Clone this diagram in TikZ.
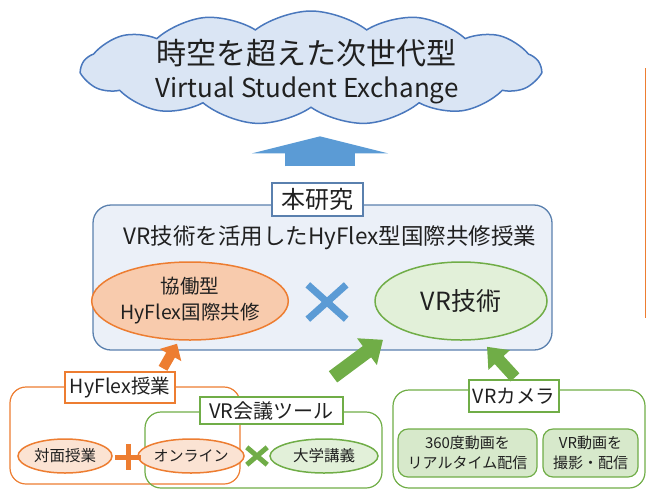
\documentclass[tikz,border=0pt]{standalone}
\usepackage{fontspec}
\setmainfont{Noto Sans CJK JP}
\usetikzlibrary{shapes.symbols,shapes.geometric,arrows.meta,calc}
\definecolor{cloudfill}{HTML}{DAE5F4}
\definecolor{cloudline}{HTML}{4A78BD}
\definecolor{boxfill}{HTML}{EBF0F8}
\definecolor{boxline}{HTML}{5A80AE}
\definecolor{bluearr}{HTML}{5B9BD5}
\definecolor{orng}{HTML}{ED7D31}
\definecolor{orfill}{HTML}{F8CBAD}
\definecolor{orfilltwo}{HTML}{FBE3D3}
\definecolor{grn}{HTML}{70AD47}
\definecolor{grfill}{HTML}{E2F0D9}
\definecolor{grfilltwo}{HTML}{D7E9CB}
\definecolor{txt}{HTML}{202020}
\tikzset{
  every node/.style={text=txt, inner sep=0pt},
  lbl/.style={draw=#1, fill=white, line width=1.3pt},
  grp/.style={draw=#1, rounded corners=16pt, line width=1.2pt},
  ell/.style={ellipse, line width=1.5pt},
}
\begin{document}
\begin{tikzpicture}[x=1pt,y=-1pt]
\useasboundingbox (0,0) rectangle (647,491);
% cloud
\node[cloud, cloud puffs=13, cloud puff arc=75, cloud ignores aspect,
      minimum width=458pt, minimum height=114pt, draw=cloudline,
      line width=1.5pt, fill=cloudfill] (cloud) at (311,68) {};
\node[font=\fontsize{30}{30}\selectfont] (cl1) at (306,53) {時空を超えた次世代型};
\node[font=\fontsize{26}{26}\selectfont] (cl2) at (307,90) {Virtual Student Exchange};
% main box
\node[draw=boxline, fill=boxfill, rounded corners=18pt, line width=1.3pt,
      minimum width=459pt, minimum height=145pt] (main) at (322.5,277.5) {};
\node[lbl=boxline, minimum width=91pt, minimum height=33pt,
      font=\fontsize{24}{24}\selectfont] (hon) at (317.5,199.5) {本研究};
\node[font=\fontsize{22.5}{22.5}\selectfont] (maintxt) at (330,238)
      {VR技術を活用したHyFlex型国際共修授業};
\node[ell, draw=orng, fill=orfill, minimum width=165pt, minimum height=78pt,
      align=center, font=\fontsize{19.5}{26}\selectfont] (orell) at (190,301)
      {協働型\\HyFlex国際共修};
\node[ell, draw=grn, fill=grfill, minimum width=172pt, minimum height=78pt,
      font=\fontsize{25}{25}\selectfont] (greell) at (461,301) {VR技術};
\node[minimum width=38pt, minimum height=34pt] (xone) at (327,302) {};
\draw[bluearr, line width=7pt] (xone.north west) -- (xone.south east)
      (xone.north east) -- (xone.south west);
% blue arrow
\draw[bluearr, line width=70pt, -{Triangle[length=17pt,width=136pt]}]
      ([xshift=2.5pt,yshift=16pt]hon.north) -- ([xshift=2.5pt,yshift=46pt]hon.north);
% HyFlex group
\node[grp=orng, minimum width=230pt, minimum height=97pt] (hyg) at (125,435.5) {};
\node[grp=grn, minimum width=237pt, minimum height=76pt] (vrg) at (263.5,450) {};
\node[lbl=orng, minimum width=110pt, minimum height=31pt,
      font=\fontsize{19.5}{19.5}\selectfont] (hylab) at (120,387.5) {HyFlex授業};
\node[lbl=grn, minimum width=143pt, minimum height=27pt,
      font=\fontsize{20}{20}\selectfont] (vrlab) at (271.5,410.5) {VR会議ツール};
\node[ell, draw=orng, fill=orfilltwo, minimum width=94pt, minimum height=34pt,
      font=\fontsize{15.5}{15.5}\selectfont] (taimen) at (65,456) {対面授業};
\node[ell, draw=orng, fill=orfilltwo, minimum width=88pt, minimum height=34pt,
      font=\fontsize{15}{15}\selectfont] (online) at (191,456) {オンライン};
\node[ell, draw=grn, fill=grfill, minimum width=108pt, minimum height=34pt,
      font=\fontsize{15.5}{15.5}\selectfont] (daigaku) at (324,456) {大学講義};
\node[minimum width=25pt, minimum height=26pt] (plus) at (128,457) {};
\draw[orng, line width=5pt] (plus.west) -- (plus.east) (plus.north) -- (plus.south);
\node[minimum width=20pt, minimum height=17pt] (xtwo) at (257,456) {};
\draw[grn, line width=5pt] (xtwo.north west) -- (xtwo.south east)
      (xtwo.north east) -- (xtwo.south west);
% VR camera group
\node[grp=grn, minimum width=252pt, minimum height=98pt] (camg) at (519,439) {};
\node[lbl=grn, minimum width=90pt, minimum height=32pt,
      font=\fontsize{19.5}{19.5}\selectfont] (camlab) at (514,396) {VRカメラ};
\node[draw=grn, fill=grfilltwo, rounded corners=10pt, line width=1.2pt,
      minimum width=139pt, minimum height=48pt, align=center,
      font=\fontsize{15}{20}\selectfont] (cam1) at (467.5,453) {360度動画を\\リアルタイム配信};
\node[draw=grn, fill=grfilltwo, rounded corners=10pt, line width=1.2pt,
      minimum width=95pt, minimum height=48pt, align=center,
      font=\fontsize{15}{20}\selectfont] (cam2) at (590.5,453) {VR動画を\\撮影・配信};
% arrows
\draw[orng, line width=10pt, -{Triangle[length=13pt,width=24pt]}]
      ([xshift=43pt,yshift=3pt]hylab.north) -- ([xshift=-13pt,yshift=-3pt]orell.south);
\draw[grn, line width=14pt, -{Triangle[length=20pt,width=32pt]}]
      ([xshift=61.5pt,yshift=19.5pt]vrlab.north) -- ([xshift=-78pt,yshift=1pt]greell.south);
\draw[grn, line width=12pt, -{Triangle[length=18pt,width=28pt]}]
      ([xshift=1pt,yshift=2pt]camlab.north) -- ([xshift=26pt,yshift=-6pt]greell.south);
% side line
\draw[orng, line width=1.5pt] (645.5,68) -- (645.5,318);
\end{tikzpicture}
\end{document}
